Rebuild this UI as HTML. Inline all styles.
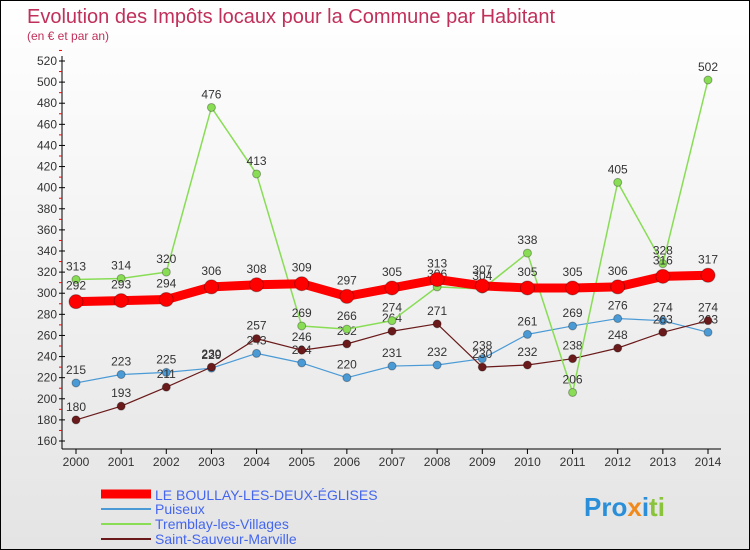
<!DOCTYPE html>
<html><head><meta charset="utf-8"><style>
body{margin:0;padding:0}
#wrap{width:748px;height:548px;border:1px solid #000;position:relative;background:linear-gradient(#fff,#e4e4e4);font-family:"Liberation Sans",sans-serif;overflow:hidden}
</style></head><body>
<div id="wrap">
<svg id="chart" width="748" height="548" xmlns="http://www.w3.org/2000/svg">
<text x="26" y="22" font-size="20" fill="#c0305a">Evolution des Impôts locaux pour la Commune par Habitant</text>
<text x="26" y="39" font-size="12" fill="#c0305a">(en € et par an)</text>
<g id="axes"></g><g id="series"></g>
<g>
<line x1="100" y1="493" x2="150" y2="493" stroke="#ff0000" stroke-width="9"/>
<text x="154" y="499" font-size="14" fill="#4466ee">LE BOULLAY-LES-DEUX-ÉGLISES</text>
<line x1="100" y1="508" x2="150" y2="508" stroke="#4a9ad6" stroke-width="2"/>
<text x="154" y="513" font-size="14" fill="#4466ee">Puiseux</text>
<line x1="100" y1="523" x2="150" y2="523" stroke="#88dd55" stroke-width="2"/>
<text x="154" y="528" font-size="14" fill="#4466ee">Tremblay-les-Villages</text>
<line x1="100" y1="538" x2="150" y2="538" stroke="#6a1a1a" stroke-width="2"/>
<text x="154" y="543" font-size="14" fill="#4466ee">Saint-Sauveur-Marville</text>
</g>
<text x="583" y="515" font-size="26" font-weight="bold"><tspan fill="#2a8fd8">Pro</tspan><tspan fill="#f08a1c">x</tspan><tspan fill="#2a8fd8">i</tspan><tspan fill="#8ac43c">ti</tspan></text>
</svg>
</div>
<script>
const years=[2000,2001,2002,2003,2004,2005,2006,2007,2008,2009,2010,2011,2012,2013,2014];
const yTicks=[160,180,200,220,240,260,280,300,320,340,360,380,400,420,440,460,480,500,520];
const boullay=[292,293,294,306,308,309,297,305,313,307,305,305,306,316,317];
const puiseux=[215,223,225,229,243,234,220,231,232,238,261,269,276,274,263];
const tremblay=[313,314,320,476,413,269,266,274,306,304,338,206,405,328,502];
const sauveur=[180,193,211,230,257,246,252,264,271,230,232,238,248,263,274];
const NS="http://www.w3.org/2000/svg";
const x=i=>75+i*(707-75)/(years.length-1);
const y=v=>440-(v-160)*(380/360);
function mk(tag,attrs,parent){const e=document.createElementNS(NS,tag);for(const k in attrs)e.setAttribute(k,attrs[k]);parent.appendChild(e);return e;}
const ax=document.getElementById('axes');
let l=mk('line',{x1:61,y1:55,x2:61,y2:448,stroke:'#000'},ax);


l=mk('line',{x1:61,y1:448,x2:720,y2:448,stroke:'#000'},ax);


yTicks.forEach(v=>{
  mk('line',{x1:58,y1:y(v),x2:64,y2:y(v),stroke:'#000'},ax);
  mk('line',{x1:58,y1:y(v+10),x2:61,y2:y(v+10),stroke:'#ff0000'},ax);
  const t=mk('text',{x:56,y:y(v)+4,'font-size':12,'text-anchor':'end',fill:'#333'},ax);
  t.textContent=v;
  
  
});
years.forEach((yr,i)=>{
  mk('line',{x1:x(i),y1:448,x2:x(i),y2:453,stroke:'#000'},ax);
  const t=mk('text',{x:x(i),y:465,'font-size':12,'text-anchor':'middle',fill:'#333'},ax);
  t.textContent=yr;
  
  
});
const sg=document.getElementById('series');
function draw(data,color,w,r,name){
  const g=mk('g',{},sg);
  
  
  const p=mk('polyline',{points:data.map((v,i)=>x(i)+','+y(v)).join(' '),fill:'none',stroke:color,'stroke-width':w,'stroke-linejoin':'round'},g);
  
  
  data.forEach((v,i)=>{
    const c=mk('circle',{cx:x(i),cy:y(v),r:r,fill:color,stroke:'rgba(0,0,0,0.3)'},g);
    
    
    const t=mk('text',{x:x(i),y:y(v)-r-5,'font-size':12,'text-anchor':'middle',fill:'#333'},g);
    t.textContent=v;
    
    
  });
}
draw(puiseux,'#4a9ad6',1.2,4,'puiseux');
draw(sauveur,'#6a1a1a',1.2,4,'saint-sauveur');
draw(tremblay,'#88dd55',1.5,4,'tremblay');
draw(boullay,'#ff0000',9,7,'boullay');
</script>
</body></html>
